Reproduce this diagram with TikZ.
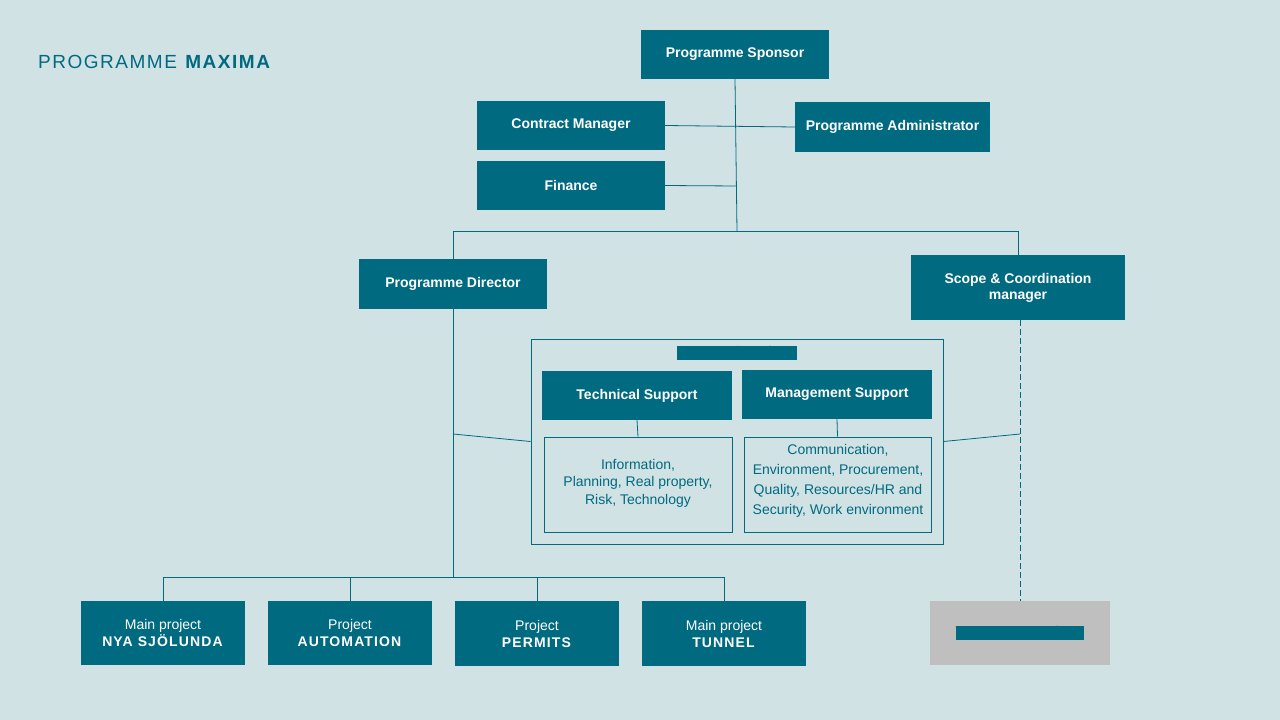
\documentclass[tikz,border=0pt]{standalone}
\usepackage{fontspec}
\setmainfont{Liberation Sans}
\definecolor{bg}{HTML}{D1E2E5}
\definecolor{teal}{HTML}{006A80}
\definecolor{gr}{HTML}{BFBFBF}
\begin{document}
\begin{tikzpicture}[x=1pt,y=-1pt,
 box/.style={fill=teal,text=white,font=\fontsize{14}{16}\selectfont\bfseries,align=center,inner sep=0},
 obox/.style={draw=teal,line width=1pt,text=teal,font=\fontsize{14}{20}\selectfont,align=center,inner sep=0},
 ln/.style={draw=teal,line width=0.8pt}]
\fill[bg] (0,0) rectangle (1280,720);
\node[anchor=west,text=teal,font=\fontsize{19}{20}\selectfont,inner sep=0] (title) at (38,62) {\addfontfeature{LetterSpace=8}PROGRAMME \textbf{MAXIMA}};
\newcommand\bx[6]{\node[#6,minimum width=#3-#1,minimum height=#4-#2] (#5) at ({(#1+#3)/2},{(#2+#4)/2}) {};}
\bx{641}{30}{829}{79}{sp}{box}
\bx{477}{101}{665}{150}{cm}{box}
\bx{795}{102}{990}{152}{pa}{box}
\bx{477}{161}{665}{210}{fi}{box}
\bx{359}{259}{547}{309}{pd}{box}
\bx{911}{255}{1125}{320}{sc}{box}
\bx{531}{339}{943}{544}{sf}{obox}
\bx{542}{371}{732}{420}{ts}{box}
\bx{742}{370}{932}{419}{ms}{box}
\bx{544}{437}{732}{532}{ib}{obox}
\bx{744}{437}{931}{532}{mb}{obox}
\bx{81}{601}{245}{665}{p1}{box}
\bx{268}{601}{432}{665}{p2}{box}
\bx{455}{601}{619}{666}{p3}{box}
\bx{642}{601}{806}{666}{p4}{box}
\bx{930}{601}{1110}{665}{va}{box,fill=gr}
\node[box] at (sp) {Programme Sponsor};
\node[box] at (cm) {Contract Manager};
\node[box] at (pa) {Programme Administrator};
\node[box] at (fi) {Finance};
\node[box] at (pd) {Programme Director};
\node[box] at (sc) {Scope \& Coordination\\manager};
\node[box,text=teal] at (737,353) {Support functions};
\node[box] at (ts) {Technical Support};
\node[box] at (ms) {Management Support};
\node[text=teal,align=center,font=\fontsize{14}{17.5}\selectfont,inner sep=0] at (638,483) {Information,\\Planning, Real property,\\Risk, Technology};
\node[text=teal,align=center,font=\fontsize{14}{20}\selectfont,inner sep=0] at (838,481) {Communication,\\Environment, Procurement,\\Quality, Resources/HR and\\Security, Work environment};
\foreach \n/\a/\b in {p1/Main project/NYA SJÖLUNDA,p2/Project/AUTOMATION,p3/Project/PERMITS,p4/Main project/TUNNEL}
 \node[text=white,align=center,font=\fontsize{14}{17}\selectfont,inner sep=0] at (\n) {\a\\\textbf{\addfontfeature{LetterSpace=8}\b}};
\node[box,text=teal] at (va) {VA SYD Operations};
% lines
\coordinate (j1) at (737,231);
\draw[ln] (sp.south) -- (j1);
\draw[ln] (cm.east) -- (pa.west);
\draw[ln] (fi.east) -- (737,186);
\draw[ln] (pd.north) -- (453,231) -- (1018,231) -- (sc.north);
\draw[ln] (pd.south) -- (453,577);
\draw[ln] (453,434) -- (sf.west);
\draw[ln] (sf.east) -- (1020,434);
\draw[ln,dashed,dash pattern=on 6pt off 3pt] (1020,320) -- (va.north);
\draw[ln] (163,577) -- (724,577);
\foreach \n in {p1,p2,p3,p4} \draw[ln] (\n.north) -- (\n.north |- 0,577);
\draw[ln] (ts.south) -- (ib.north);
\draw[ln] (ms.south) -- (mb.north);
\end{tikzpicture}
\end{document}
